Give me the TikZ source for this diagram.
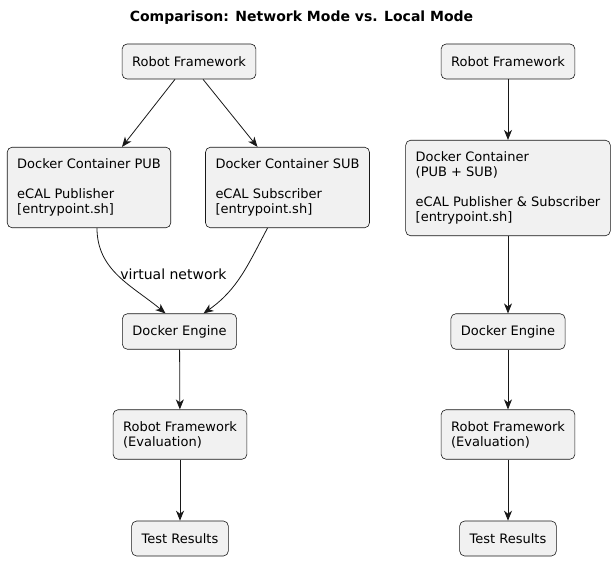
\documentclass[tikz,border=0pt]{standalone}
\usepackage{fontspec}
\setmainfont{DejaVu Sans}
\usetikzlibrary{arrows.meta}
\definecolor{boxfill}{HTML}{F1F1F1}
\definecolor{ink}{HTML}{181818}

\begin{document}
\begin{tikzpicture}[x=1pt,y=-1pt,
  box/.style={draw=ink,fill=boxfill,rounded corners=5pt,line width=0.6pt,
    align=left,inner xsep=10pt,inner ysep=11.5pt,minimum height=35pt,
    font=\fontsize{13}{15}\selectfont},
  link/.style={draw=ink,line width=0.8pt,-{Stealth[length=10pt,width=8pt,inset=3pt]}}]
\useasboundingbox (0,0) rectangle (615,561);
\node (title) at (301.5,18) [font=\fontsize{14}{16}\selectfont\bfseries] {Comparison: Network Mode vs. Local Mode};
% network mode
\node (robot) at (189,61.5) [box] {Robot Framework};
\node (pub) at (89,187.5) [box] {Docker Container PUB\\[15pt]eCAL Publisher\\{}[entrypoint.sh]};
\node (sub) at (287.5,187.5) [box] {Docker Container SUB\\[15pt]eCAL Subscriber\\{}[entrypoint.sh]};
\node (engine) at (179.5,331.5) [box] {Docker Engine};
\node (eval) at (180,434.5) [box] {Robot Framework\\(Evaluation)};
\node (results) at (180,538.5) [box] {Test Results};
\draw[link] ([xshift=-14pt]robot.south) -- ([xshift=33pt]pub.north);
\draw[link] ([xshift=14pt]robot.south) -- ([xshift=-30pt]sub.north);
\draw[link] ([xshift=8pt]pub.south) to[out=-90,in=140] node[right=0pt,pos=0.47,font=\fontsize{14}{16}\selectfont] {virtual network} ([xshift=-14pt]engine.north);
\draw[link] ([xshift=-20pt]sub.south) to[out=-118,in=35] ([xshift=24pt]engine.north);
\draw[link] (engine) -- (eval);
\draw[link] (eval) -- (results);
% local mode
\node (robotL) at (508,61.5) [box] {Robot Framework};
\node (container) at (508,188) [box] {Docker Container\\(PUB + SUB)\\[15pt]eCAL Publisher \& Subscriber\\{}[entrypoint.sh]};
\node (engineL) at (508,331.5) [box] {Docker Engine};
\node (evalL) at (508,434.5) [box] {Robot Framework\\(Evaluation)};
\node (resultsL) at (508,538.5) [box] {Test Results};
\draw[link] (robotL) -- (container);
\draw[link] (container) -- (engineL);
\draw[link] (engineL) -- (evalL);
\draw[link] (evalL) -- (resultsL);
\end{tikzpicture}
\end{document}
